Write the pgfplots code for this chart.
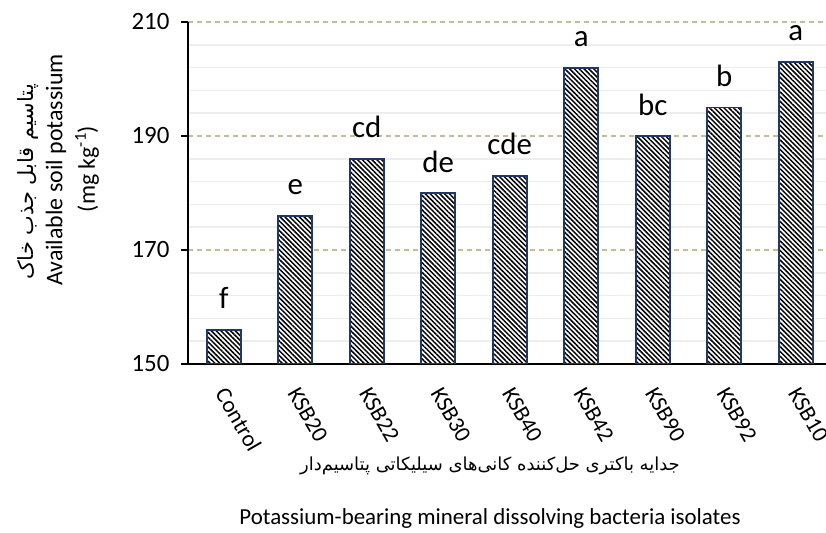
\documentclass[border=0pt]{standalone}
\usepackage{fontspec}
\setmainfont{Carlito}
\newfontfamily\arabicfont[Script=Arabic]{DejaVu Sans}
\TeXXeTstate=1
\usepackage{pgfplots}
\pgfplotsset{compat=1.18}
\usepackage{pgfplotstable}
\usetikzlibrary{patterns.meta}
\definecolor{baredge}{HTML}{1F3864}
\definecolor{majgrid}{HTML}{C4BC96}
\definecolor{mingrid}{HTML}{EDEDED}

\pgfplotstableread{
x val lab
0 156 f
1 176 e
2 186 cd
3 180 de
4 183 cde
5 202 a
6 190 bc
7 195 b
8 203 a
}\kdata

\begin{document}
\begin{tikzpicture}
\begin{axis}[
  set layers=standard,
  at={(0,0)}, anchor=south west,
  scale only axis,
  width=643.5bp, height=342bp,
  xmin=-0.5, xmax=8.5,
  ymin=150, ymax=210,
  enlargelimits=false,
  ytick={150,170,190,210},
  minor y tick num=4,
  xtick={0,...,8},
  xticklabels={Control,KSB20,KSB22,KSB30,KSB40,KSB42,KSB90,KSB92,KSB10},
  axis x line*=bottom, axis y line*=left,
  axis line style={line width=2.6bp, black},
  tick align=outside,
  major tick length=7bp,
  major x tick style={draw=none},
  major y tick style={line width=2.2bp, black},
  minor y tick style={draw=none},
  ymajorgrids, yminorgrids,
  major grid style={majgrid, line width=1.3bp, dash pattern=on 5bp off 4bp},
  minor grid style={mingrid, line width=1.6bp},
  /pgf/number format/assume math mode=true,
  y tick label style={font=\fontsize{25}{25}\selectfont, xshift=-8bp},
  x tick label style={font=\fontsize{23}{23}\selectfont, xshift=6bp, yshift=-10bp, rotate=-60, anchor=north west},
  ybar, bar width=34bp,
  nodes near coords,
  point meta=explicit symbolic,
  nodes near coords style={font=\fontsize{31}{31}\selectfont, anchor=base, yshift=21bp},
]
\addplot[draw=baredge, line width=1.8bp, preaction={fill=white},
  pattern={Lines[angle=-45,distance=3.4bp,line width=1.5bp]}, pattern color=black]
  table[x=x, y=val, meta=lab] {\kdata};
\end{axis}
\node[rotate=90, font=\arabicfont\fontsize{21}{21}\selectfont] at (-160bp,182bp) {\beginR پتاسیم قابل جذب خاک\endR};
\node[rotate=90, font=\fontsize{24}{24}\selectfont] at (-132bp,194bp) {Available soil potassium};
\node[rotate=90, font=\fontsize{24}{24}\selectfont] at (-101bp,195bp) {(mg kg\textsuperscript{-1})};
\node[font=\arabicfont\fontsize{18}{18}\selectfont] at (302bp,-102bp) {\beginR جدایه باکتری حل‌کننده کانی‌های سیلیکاتی پتاسیم‌دار\endR};
\node[font=\fontsize{23}{23}\selectfont] at (302bp,-155bp) {Potassium-bearing mineral dissolving bacteria isolates};
\pgfresetboundingbox
\path (-188bp,-169bp) rectangle (638bp,364bp);
\end{tikzpicture}
\end{document}
